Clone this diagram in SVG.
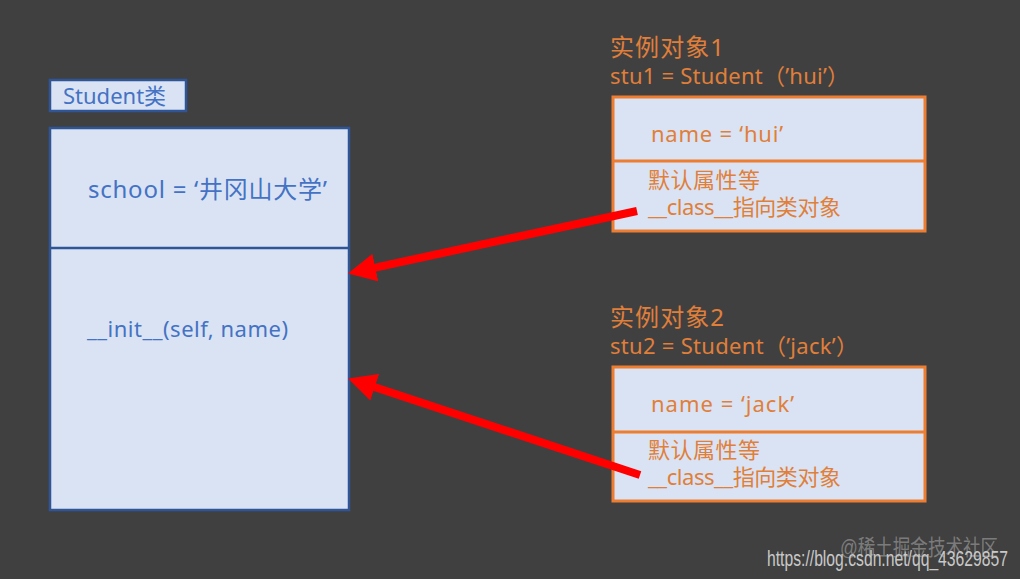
<svg xmlns="http://www.w3.org/2000/svg" width="1020" height="579" viewBox="0 0 1020 579">
<style>
text{font-family:"Noto Sans","Noto Sans CJK SC",sans-serif;font-size:22px}
.blue{fill:#4472C4}
.org{fill:#E07F3A}
.big{font-size:24px}
.cls{fill:#DAE3F3;stroke:#2F5597;stroke-width:2.5}
.obj{fill:#DAE3F3;stroke:#ED7D31;stroke-width:3}
.arr{stroke:#FF0000;stroke-width:8;fill:none;marker-end:url(#ah)}
.wm{font-family:"Liberation Sans","Noto Sans CJK SC",sans-serif;fill:#c8c8c8}
</style>
<defs>
<marker id="ah" markerUnits="userSpaceOnUse" markerWidth="28" markerHeight="28" viewBox="0 0 28 28" refX="6" refY="14" orient="auto">
<path d="M0,0 L28,14 L0,28 z" fill="#FF0000"/>
</marker>
</defs>
<rect width="1020" height="579" fill="#404040"/>
<g id="class-label">
<rect class="cls" x="50" y="80" width="136" height="31"/>
<text class="blue" x="63" y="104" font-size="23">Student类</text>
</g>
<g id="student-class">
<rect class="cls" x="50" y="128" width="299" height="382"/>
<line x1="50" y1="248" x2="349" y2="248" stroke="#2F5597" stroke-width="2.5"/>
<text class="blue big" x="88" y="198" textLength="239">school = ‘井冈山大学’</text>
<text class="blue" x="87" y="337" textLength="201">__init__(self, name)</text>
</g>
<g id="instance1">
<text class="org big" x="610" y="56" textLength="114">实例对象1</text>
<text class="org" x="610" y="84" textLength="239">stu1 = Student（’hui’）</text>
<rect class="obj" x="613" y="97" width="312" height="134"/>
<line x1="613" y1="161" x2="925" y2="161" stroke="#ED7D31" stroke-width="3"/>
<text class="org" x="651" y="142" textLength="132">name = ‘hui’</text>
<text class="org" x="648" y="188" font-size="21.5" textLength="112">默认属性等</text>
<text class="org" x="648" y="215" font-size="21.5" textLength="193">__class__指向类对象</text>
</g>
<g id="instance2">
<text class="org big" x="610" y="326" textLength="114">实例对象2</text>
<text class="org" x="610" y="354" textLength="248">stu2 = Student（’jack’）</text>
<rect class="obj" x="613" y="367" width="312" height="134"/>
<line x1="613" y1="432" x2="925" y2="432" stroke="#ED7D31" stroke-width="3"/>
<text class="org" x="651" y="412" textLength="143">name = ‘jack’</text>
<text class="org" x="648" y="458" font-size="21.5" textLength="112">默认属性等</text>
<text class="org" x="648" y="485" font-size="21.5" textLength="193">__class__指向类对象</text>
</g>
<g id="connectors">
<line class="arr" x1="637" y1="211" x2="369.5" y2="268.8"/>
<line class="arr" x1="640" y1="475" x2="369" y2="385.3"/>
</g>
<text class="wm" x="840" y="555" font-size="17" fill-opacity="0.45" textLength="158" lengthAdjust="spacingAndGlyphs">@稀土掘金技术社区</text>
<text class="wm" x="767" y="566" font-size="14.5" textLength="241" lengthAdjust="spacingAndGlyphs">https://blog.csdn.net/qq_43629857</text>
</svg>
